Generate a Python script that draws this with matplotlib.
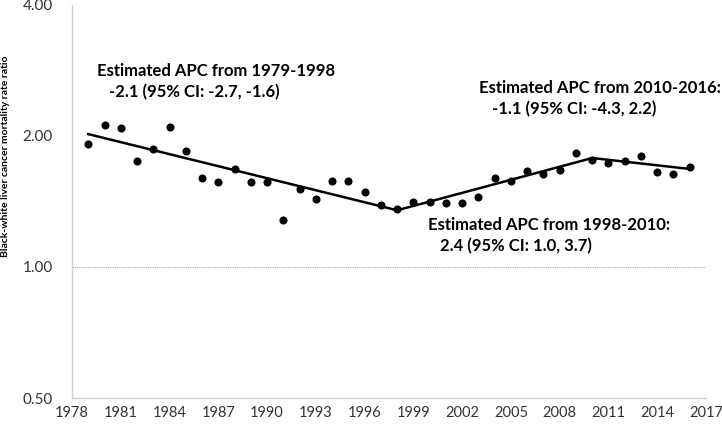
import numpy as np
import matplotlib.pyplot as plt
from matplotlib.ticker import FixedLocator, NullLocator

# observed black-white ratio, one point per year
years = list(range(1979, 2017))
ratio = [1.92, 2.12, 2.09, 1.75, 1.87, 2.10, 1.85, 1.60, 1.57, 1.68,
         1.57, 1.57, 1.28, 1.51, 1.43, 1.58, 1.58, 1.49, 1.39, 1.36,
         1.41, 1.41, 1.40, 1.40, 1.45, 1.60, 1.58, 1.66, 1.64, 1.67,
         1.83, 1.76, 1.73, 1.75, 1.80, 1.65, 1.64, 1.70]

# joinpoint fit
jp_years = [1979, 1998, 2010, 2016]
jp_vals = [2.02, 1.35, 1.78, 1.68]

y_ticks = [0.5, 1.0, 2.0, 4.0]
x_ticks = list(range(1978, 2018, 3))

notes = [
    ("Estimated APC from 1979-1998", "-2.1 (95% CI: -2.7, -1.6)", 96.7, 70.7, 109),
    ("Estimated APC from 2010-2016:", "-1.1 (95% CI: -4.3, 2.2)", 479.3, 88.3, 491.7),
    ("Estimated APC from 1998-2010:", "2.4 (95% CI: 1.0, 3.7)", 428.3, 225, 440),
]

W, H = 722, 424
fig = plt.figure(figsize=(W / 100, H / 100), dpi=100)
L, R, T, B = 72, 706, 5, 398
ax = fig.add_axes([L / W, 1 - B / H, (R - L) / W, (B - T) / H])

ax.set_yscale("log")
ax.set_ylim(0.5, 4.0)
ax.set_xlim(1978, 2017)

ax.axhline(1.0, color="#b0b0b0", lw=0.8, ls=(0, (1, 1)), zorder=1)
ax.plot(jp_years, jp_vals, color="black", lw=1.8, zorder=2)
ax.scatter(years, ratio, s=34, color="black", zorder=3, linewidths=0)

ax.yaxis.set_major_locator(FixedLocator(y_ticks))
ax.yaxis.set_minor_locator(NullLocator())
ax.set_yticklabels(["%.2f" % v for v in y_ticks])
ax.set_xticks(x_ticks)
ax.set_xticklabels([str(x) for x in x_ticks])
ax.tick_params(length=0, labelsize=11, labelcolor="#333333", pad=6)
ax.tick_params(axis="x", labelsize=10.5)
ax.tick_params(axis="y", pad=14)
for lab in ax.get_xticklabels() + ax.get_yticklabels():
    lab.set_family("Lato")

for s in ["top", "right"]:
    ax.spines[s].set_visible(False)
for s in ["left", "bottom"]:
    ax.spines[s].set_color("#d0d0d0")
    ax.spines[s].set_linewidth(1.0)

fig.text(5.5 / W, 1 - 156 / H, "Black-white liver cancer mortality rate ratio",
         rotation=90, ha="center", va="center", fontsize=7.5, fontweight="bold",
         family="Lato", color="black")

for l1, l2, x1, y1, x2 in notes:
    fig.text(x1 / W, 1 - y1 / H, l1, ha="left", va="center", fontsize=12,
             fontweight="bold", family="Lato", color="black")
    fig.text(x2 / W, 1 - (y1 + 21) / H, l2, ha="left", va="center", fontsize=12,
             fontweight="bold", family="Lato", color="black")

fig.savefig("out.png", dpi=100)
